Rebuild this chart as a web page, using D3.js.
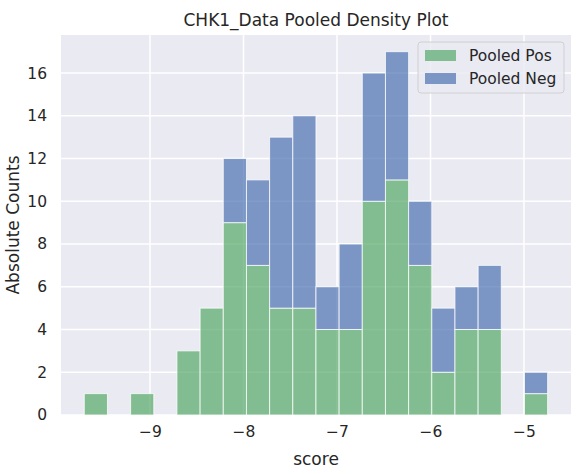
<!DOCTYPE html>
<html>
<head>
<meta charset="utf-8">
<script src="https://cdn.jsdelivr.net/npm/d3@7"></script>
<style>
  body { margin: 0; background: #fff; }
  text { font-family: "DejaVu Sans", sans-serif; fill: #262626; }
</style>
</head>
<body>
<script>
// histogram bins (20 bins, stacked)
var binStart = -9.703;
var binWidth = 0.2478;
var posCounts = [1, 0, 1, 0, 3, 5, 9, 7, 5, 5, 4, 4, 10, 11, 7, 2, 4, 4, 0, 1];
var negCounts = [0, 0, 0, 0, 0, 0, 3, 4, 8, 9, 2, 4, 6, 6, 3, 3, 2, 3, 0, 1];
var xTicks = [-9, -8, -7, -6, -5];
var yTicks = [0, 2, 4, 6, 8, 10, 12, 14, 16];
var seriesNames = ["Pooled Pos", "Pooled Neg"];
var seriesColors = ["#55a868", "#4c72b0"];

var width = 585, height = 474;
var margin = {top: 35, right: 14, bottom: 59, left: 61};
var w = width - margin.left - margin.right,
    h = height - margin.top - margin.bottom;

var svg = d3.select("body").append("svg")
  .attr("width", width)
  .attr("height", height);

var g = svg.append("g")
  .attr("transform", "translate(" + margin.left + "," + margin.top + ")");

var x = d3.scaleLinear().domain([-9.952, -4.497]).range([0, w]);
var y = d3.scaleLinear().domain([0, 17.78]).range([h, 0]);

g.append("rect").attr("width", w).attr("height", h).attr("fill", "#eaeaf2");

// grid
g.selectAll(".xgrid").data(xTicks).enter().append("line")
  .attr("x1", function(d){ return x(d); }).attr("x2", function(d){ return x(d); })
  .attr("y1", 0).attr("y2", h)
  .attr("stroke", "#fff").attr("stroke-width", 1.5);
g.selectAll(".ygrid").data(yTicks).enter().append("line")
  .attr("y1", function(d){ return y(d); }).attr("y2", function(d){ return y(d); })
  .attr("x1", 0).attr("x2", w)
  .attr("stroke", "#fff").attr("stroke-width", 1.5);

// bars
var bins = posCounts.map(function(p, i){
  return {x0: binStart + i * binWidth, x1: binStart + (i + 1) * binWidth, pos: p, neg: negCounts[i]};
});

var barG = g.append("g");
bins.forEach(function(b){
  if(b.pos > 0){
    barG.append("rect")
      .attr("x", x(b.x0)).attr("width", x(b.x1) - x(b.x0))
      .attr("y", y(b.pos)).attr("height", y(0) - y(b.pos))
      .attr("fill", seriesColors[0]).attr("fill-opacity", 0.7)
      .attr("stroke", "#fff").attr("stroke-opacity", 0.75).attr("stroke-width", 1);
  }
  if(b.neg > 0){
    barG.append("rect")
      .attr("x", x(b.x0)).attr("width", x(b.x1) - x(b.x0))
      .attr("y", y(b.pos + b.neg)).attr("height", y(b.pos) - y(b.pos + b.neg))
      .attr("fill", seriesColors[1]).attr("fill-opacity", 0.7)
      .attr("stroke", "#fff").attr("stroke-opacity", 0.75).attr("stroke-width", 1);
  }
});

// axes
var xAxis = g.append("g").attr("transform", "translate(0," + h + ")")
  .call(d3.axisBottom(x).tickValues(xTicks).tickSize(0).tickPadding(11).tickFormat(d3.format("d")));
var yAxis = g.append("g")
  .call(d3.axisLeft(y).tickValues(yTicks).tickSize(0).tickPadding(14));
[xAxis, yAxis].forEach(function(a){
  a.select(".domain").remove();
  a.selectAll("text").style("font-size", "15.5px").attr("fill", "#262626")
    .style("font-family", "DejaVu Sans, sans-serif");
});

// labels
svg.append("text").attr("x", margin.left + w / 2).attr("y", 465)
  .attr("text-anchor", "middle").style("font-size", "17px").text("score");
svg.append("text")
  .attr("transform", "translate(19," + (margin.top + h / 2) + ") rotate(-90)")
  .attr("text-anchor", "middle").style("font-size", "17px").text("Absolute Counts");
svg.append("text").attr("x", margin.left + w / 2).attr("y", 26)
  .attr("text-anchor", "middle").style("font-size", "17px").text("CHK1_Data Pooled Density Plot");

// legend
var leg = svg.append("g").attr("transform", "translate(418,42)");
leg.append("rect").attr("width", 146).attr("height", 51).attr("rx", 3)
  .attr("fill", "#eaeaf2").attr("fill-opacity", 0.8)
  .attr("stroke", "#d0d0d0").attr("stroke-width", 1);
seriesNames.forEach(function(name, i){
  leg.append("rect").attr("x", 7).attr("y", 8 + i * 23).attr("width", 31).attr("height", 11)
    .attr("fill", seriesColors[i]).attr("fill-opacity", 0.7);
  leg.append("text").attr("x", 51).attr("y", 19 + i * 23)
    .style("font-size", "15.5px").text(name);
});
</script>
</body>
</html>
